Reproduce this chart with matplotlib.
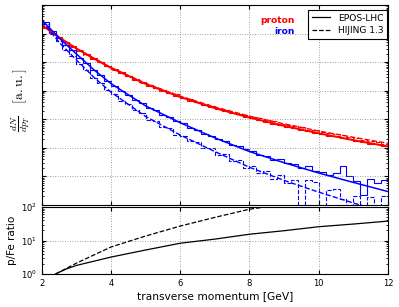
import numpy as np
import matplotlib
matplotlib.use("Agg")
import matplotlib.pyplot as plt
from matplotlib.lines import Line2D

# bin edges of the pT histograms (GeV)
bin_edges = np.linspace(2.0, 12.0, 51)

# histogram contents, log10 of dN/dpT [a.u.]  (-3 = empty bin)
p_epos_hist = [6.22, 6.03, 5.88, 5.70, 5.56, 5.40, 5.28, 5.12, 5.01, 4.86,
               4.75, 4.62, 4.52, 4.39, 4.30, 4.18, 4.11, 4.00, 3.93, 3.82,
               3.75, 3.65, 3.59, 3.49, 3.44, 3.35, 3.30, 3.21, 3.17, 3.08,
               3.04, 2.96, 2.92, 2.85, 2.81, 2.73, 2.70, 2.63, 2.60, 2.53,
               2.50, 2.43, 2.40, 2.33, 2.30, 2.24, 2.21, 2.15, 2.12, 2.06]
p_hijing_hist = [6.20, 6.05, 5.86, 5.72, 5.54, 5.42, 5.26, 5.14, 4.99, 4.88,
                 4.73, 4.64, 4.50, 4.42, 4.28, 4.21, 4.09, 4.04, 3.92, 3.87,
                 3.76, 3.71, 3.60, 3.55, 3.45, 3.41, 3.31, 3.27, 3.18, 3.14,
                 3.07, 3.03, 2.96, 2.93, 2.85, 2.81, 2.76, 2.73, 2.64, 2.62,
                 2.57, 2.53, 2.47, 2.44, 2.37, 2.34, 2.28, 2.25, 2.19, 2.15]
fe_epos_hist = [6.40, 6.08, 5.86, 5.60, 5.41, 5.16, 4.97, 4.72, 4.55, 4.33,
                4.18, 3.99, 3.86, 3.68, 3.56, 3.40, 3.31, 3.15, 3.07, 2.93,
                2.86, 2.70, 2.63, 2.50, 2.43, 2.32, 2.24, 2.10, 2.06, 1.95,
                1.88, 1.74, 1.72, 1.58, 1.60, 1.47, 1.44, 1.28, 1.36, 1.20,
                1.17, 1.05, 1.12, 1.35, 1.02, 0.85, 0.35, 0.90, 0.78, 0.88]
fe_hijing_hist = [6.33, 5.98, 5.73, 5.42, 5.22, 4.93, 4.74, 4.45, 4.28, 4.02,
                  3.88, 3.64, 3.53, 3.31, 3.21, 2.99, 2.93, 2.73, 2.68, 2.46,
                  2.43, 2.24, 2.21, 1.98, 1.99, 1.76, 1.78, 1.54, 1.56, 1.30,
                  1.37, 1.12, 1.18, 0.92, 1.05, 0.78, 0.86, -3, 0.87, 0.82,
                  -3, 0.52, 0.55, 0.22, -3, 0.30, -3, 0.28, -3, 0.30]

# smooth fits, log10 of dN/dpT
fit_x = [2, 2.5, 3, 3.5, 4, 5, 6, 7, 8, 9, 10, 11, 12]
p_epos_fit = [6.30, 5.87, 5.48, 5.13, 4.80, 4.24, 3.78, 3.39, 3.06, 2.77, 2.51, 2.27, 2.05]
p_hijing_fit = [6.30, 5.87, 5.48, 5.14, 4.81, 4.26, 3.81, 3.43, 3.11, 2.84, 2.59, 2.37, 2.16]
fe_epos_fit = [6.48, 5.85, 5.29, 4.74, 4.25, 3.47, 2.88, 2.35, 1.87, 1.48, 1.12, 0.79, 0.47]
fe_hijing_fit = [6.45, 5.70, 5.08, 4.48, 3.95, 3.10, 2.45, 1.87, 1.32, 0.86, 0.45, 0.07, -0.28]

# p/Fe ratio
ratio_x_epos = [2.4, 2.7, 3, 4, 5, 6, 7, 8, 9, 10, 11, 12]
ratio_epos = [1.0, 1.4, 1.8, 3.2, 5.2, 8.3, 11, 15.4, 19.6, 25.8, 31, 38]
ratio_x_hijing = [2.4, 3, 4, 5, 6, 7, 8, 9]
ratio_hijing = [1.0, 2.1, 6.4, 13.6, 27, 49, 86, 120]

plt.rcParams['xtick.direction'] = 'in'
plt.rcParams['ytick.direction'] = 'in'
plt.rcParams['xtick.top'] = True
plt.rcParams['ytick.right'] = True
plt.rcParams['xtick.labelsize'] = 6
plt.rcParams['ytick.labelsize'] = 6
plt.rcParams['xtick.major.size'] = 3
plt.rcParams['ytick.major.size'] = 3
plt.rcParams['xtick.minor.size'] = 1.5
plt.rcParams['ytick.minor.size'] = 1.5

fig = plt.figure(figsize=(3.99, 3.07), dpi=100)
ax = fig.add_axes([0.1045, 0.3322, 0.868, 0.6515])
axr = fig.add_axes([0.1045, 0.1075, 0.868, 0.2182], sharex=ax)

def up(v):
    return 10.0 ** np.array(v)

ax.stairs(up(p_epos_hist), bin_edges, baseline=None, color='r', lw=0.8)
ax.stairs(up(p_hijing_hist), bin_edges, baseline=None, color='r', lw=0.8, ls='--')
ax.stairs(up(fe_epos_hist), bin_edges, baseline=None, color='b', lw=0.8)
ax.stairs(up(fe_hijing_hist), bin_edges, baseline=None, color='b', lw=0.8, ls='--')
ax.plot(fit_x, up(p_epos_fit), color='r', lw=1.4)
ax.plot(fit_x, up(p_hijing_fit), color='r', lw=1.0, ls='--')
ax.plot(fit_x, up(fe_epos_fit), color='b', lw=1.1)
ax.plot(fit_x, up(fe_hijing_fit), color='b', lw=1.0, ls='--')

grid_kw = dict(color='0.5', ls=(0, (1, 2)), lw=0.6)

ax.set_yscale('log')
ax.set_xlim(2, 12)
ax.set_ylim(1, 1e7)
ax.tick_params(labelbottom=False, labelleft=False)
ax.grid(True, which='major', **grid_kw)
ax.set_ylabel(r'$\frac{dN}{dp_T}\quad[\mathrm{a.u.}]$', fontsize=10, math_fontfamily='cm')
ax.yaxis.set_label_coords(-0.028, 0.525)

ax.text(0.731, 0.925, 'proton', color='r', fontweight='bold', fontsize=6.6,
        ha='right', va='center', transform=ax.transAxes)
ax.text(0.731, 0.87, 'iron', color='b', fontweight='bold', fontsize=6.6,
        ha='right', va='center', transform=ax.transAxes)

handles = [Line2D([], [], color='k', lw=0.9), Line2D([], [], color='k', lw=0.9, ls='--')]
leg = ax.legend(handles, ['EPOS-LHC', 'HIJING 1.3'], loc='upper right',
                bbox_to_anchor=(0.997, 0.975), borderaxespad=0, fontsize=6.6,
                fancybox=False, framealpha=1, edgecolor='k', handlelength=2.0,
                borderpad=0.4, labelspacing=0.4)
leg.get_frame().set_linewidth(0.8)

axr.plot(ratio_x_epos, ratio_epos, color='k', lw=0.9)
axr.plot(ratio_x_hijing, ratio_hijing, color='k', lw=0.9, ls='--')
axr.set_yscale('log')
axr.set_xlim(2, 12)
axr.set_ylim(1, 100)
axr.set_xticks([2, 4, 6, 8, 10, 12])
axr.grid(True, which='major', **grid_kw)
axr.set_xlabel('transverse momentum [GeV]', fontsize=7.7, labelpad=2)
axr.set_ylabel('p/Fe ratio', fontsize=7.5)
axr.yaxis.set_label_coords(-0.07, 0.5)

fig.savefig('out.png', dpi=100)
